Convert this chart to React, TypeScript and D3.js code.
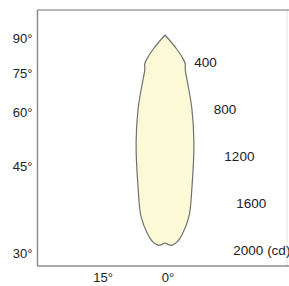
import React from "react";
import * as d3 from "d3";

// Polar luminous intensity distribution (symmetric), angle from nadir (deg) -> cd
const curveAngles = [45, 40, 37, 35, 30, 25, 20, 15, 10, 7.5, 5, 3.5, 2, 1, 0];
const curveIntensity = [0, 150, 260, 300, 345, 460, 670, 950, 1320, 1560, 1700, 1760, 1790, 1785, 1770];

const angleTicks = [90, 75, 60, 45, 30, 15, 0];
const intensityTicks = [400, 800, 1200, 1600, 2000];
const intensityUnit = "(cd)";

const W = 289;
const H = 286;
const frame = { left: 37.5, top: 10, right: 287, bottom: 266 };
const cx = 165;
const cy = 35;

export default function App() {
  const r = d3.scaleLinear().domain([0, 2000]).range([0, 235]);
  const toRad = (deg: number) => (deg * Math.PI) / 180;

  const right = curveAngles.map((a, i) => ({ a: Math.PI - toRad(a), v: curveIntensity[i] }));
  const left = curveAngles
    .slice(0, -1)
    .reverse()
    .map((a, i) => ({ a: Math.PI + toRad(a), v: curveIntensity[curveAngles.length - 2 - i] }));
  const pts = [...right, ...left];

  const line = d3
    .lineRadial<{ a: number; v: number }>()
    .angle((d) => d.a)
    .radius((d) => r(d.v))
    .curve(d3.curveCatmullRom.alpha(0.5));

  const angleLabels = angleTicks.map((deg) => {
    const t = Math.tan(toRad(deg));
    const dx = cx - frame.left;
    const yAtLeft = deg === 90 ? cy : cy + dx / t;
    if (yAtLeft <= frame.bottom) {
      return { deg, x: frame.left - 5, y: Math.min(yAtLeft + 5, frame.bottom - 11), anchor: "end" };
    }
    return { deg, x: cx - (frame.bottom - cy) * t + (deg === 0 ? 3 : 0), y: frame.bottom + 13, anchor: "middle" };
  });

  const intensityLabels = intensityTicks.map((v) => {
    const rr = r(v);
    const dy = rr - 20;
    const dx = Math.sqrt(Math.max(0, rr * rr - dy * dy));
    return { v, x: cx + dx + 2, y: cy + dy + 1 };
  });

  return (
    <svg
      width={W}
      height={H}
      style={{ position: "absolute", left: 0, top: 0, background: "#fff" }}
      fontFamily="'Liberation Sans', Arial, Helvetica, sans-serif"
    >
      <rect x={0} y={0} width={W} height={H} fill="#ffffff" />
      <line x1={frame.right} y1={frame.top} x2={frame.right} y2={frame.bottom} stroke="#e2e2e2" strokeWidth={1} />
      <line x1={frame.left} y1={frame.top} x2={frame.right + 2} y2={frame.top} stroke="#a0a0a0" strokeWidth={1.5} />
      <line x1={frame.left} y1={frame.top} x2={frame.left} y2={frame.bottom} stroke="#8c8c8c" strokeWidth={1.5} />
      <line x1={frame.left} y1={frame.bottom} x2={frame.right + 2} y2={frame.bottom} stroke="#8c8c8c" strokeWidth={1.5} />

      <g transform={`translate(${cx},${cy})`}>
        <path d={line(pts) || ""} fill="#fcf9d6" stroke="#707070" strokeWidth={1.2} strokeLinejoin="round" />
      </g>

      {angleLabels.map((l) => (
        <text
          key={l.deg}
          x={l.x}
          y={l.y}
          textAnchor={l.anchor as any}
          dominantBaseline="middle"
          fontSize={13}
          fill="#222"
        >
          {l.deg}°
        </text>
      ))}

      {intensityLabels.map((l, i) => (
        <text
          key={l.v}
          x={l.x}
          y={l.y}
          textAnchor="middle"
          dominantBaseline="middle"
          fontSize={13.5}
          fill="#222"
        >
          {i === intensityLabels.length - 1 ? `${l.v} ${intensityUnit}` : l.v}
        </text>
      ))}
    </svg>
  );
}
